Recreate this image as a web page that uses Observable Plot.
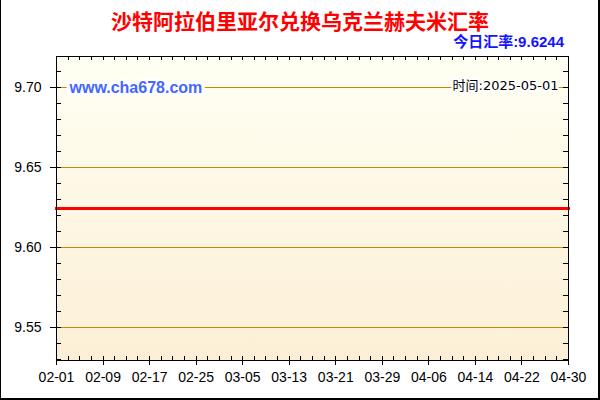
<!DOCTYPE html>
<html>
<head>
<meta charset="utf-8">
<script src="https://cdn.jsdelivr.net/npm/d3@7"></script>
<script src="https://cdn.jsdelivr.net/npm/@observablehq/plot@0.6"></script>
<style>
  body { margin: 0; background: #fff; }
  #wrap { position: relative; width: 600px; height: 400px; overflow: hidden; background: #fff; }
  #chart { position: absolute; left: 0; top: 0; }
  #title { position: absolute; left: 0; top: 9px; width: 600px; text-align: center;
           color: #ff0000; font: bold 21px/23px "Noto Sans CJK SC", sans-serif; }
  #today { position: absolute; right: 36px; top: 33px; color: #1414ff;
           font: bold 15px/18px "Liberation Sans", Arial, "Noto Sans CJK SC", sans-serif; }
  .bl { position: absolute; left: 0; top: 0; width: 1px; height: 400px; background: #000; }
  .br { position: absolute; right: 0; top: 0; width: 2px; height: 400px; background: #000; }
  .bb { position: absolute; left: 0; bottom: 0; width: 600px; height: 2px; background: #000; }
  #chart svg .grid line { stroke: #c08a00 !important; stroke-opacity: 1 !important; }
</style>
</head>
<body>
<div id="wrap">
  <div id="chart"></div>
  <div id="title">沙特阿拉伯里亚尔兑换乌克兰赫夫米汇率</div>
  <div id="today">今日汇率:9.6244</div>
  <div class="bl"></div><div class="br"></div><div class="bb"></div>
</div>
<script>
// ---- data ----
const dates = ["2025-02-01","2025-02-09","2025-02-17","2025-02-25","2025-03-05","2025-03-13",
               "2025-03-21","2025-03-29","2025-04-06","2025-04-14","2025-04-22","2025-04-30"];
const rates = [9.6244,9.6244,9.6244,9.6244,9.6244,9.6244,9.6244,9.6244,9.6244,9.6244,9.6244,9.6244];
const xTickDates = ["2025-02-01","2025-02-09","2025-02-17","2025-02-25","2025-03-05","2025-03-13",
                    "2025-03-21","2025-03-29","2025-04-06","2025-04-14","2025-04-22","2025-04-30"];
const xTickLabels = ["02-01","02-09","02-17","02-25","03-05","03-13","03-21","03-29","04-06","04-14","04-22","04-30"];
const yTicks = [9.55, 9.60, 9.65, 9.70];
const yMinorTicks = [9.53,9.54,9.55,9.56,9.57,9.58,9.59,9.60,9.61,9.62,9.63,9.64,9.65,9.66,9.67,9.68,9.69,9.70,9.71];
const yDomain = [9.5294, 9.7194];
const siteText = "www.cha678.com";
const timeText = "时间:2025-05-01";

// ---- chart ----
const W = 600, H = 400, mL = 56, mR = 32, mT = 56, mB = 40;
const plotW = W - mL - mR, plotH = H - mT - mB;
const parse = d3.utcParse("%Y-%m-%d");
const data = dates.map((d, i) => ({date: parse(d), rate: rates[i]}));
const majorX = xTickDates.map(parse);
const x0 = parse(dates[0]), x1 = parse(dates[dates.length - 1]);
const minorX = d3.utcDay.range(x0, d3.utcDay.offset(x1, 1), 2);
const labelOf = new Map(majorX.map((d, i) => [+d, xTickLabels[i]]));

const defs = () => {
  const g = d3.create("svg:defs");
  const lg = g.append("linearGradient").attr("id", "bgGrad")
    .attr("x1", 0).attr("y1", 0).attr("x2", 0).attr("y2", 1);
  lg.append("stop").attr("offset", "0%").attr("stop-color", "#fffff3");
  lg.append("stop").attr("offset", "100%").attr("stop-color", "#fcefd6");
  return g.node();
};

const fontAxis = "'Liberation Sans', Arial, sans-serif";
const gridColor = "#c08a00";
const crisp = "crispEdges";

const chart = Plot.plot({
  width: W, height: H,
  marginLeft: mL, marginRight: mR, marginTop: mT, marginBottom: mB,
  style: {background: "transparent", fontFamily: fontAxis, color: "#000"},
  x: {type: "utc", domain: [x0, x1]},
  y: {domain: yDomain},
  marks: [
    defs,
    Plot.frame({fill: "url(#bgGrad)", stroke: null}),
    Plot.ruleY(yTicks, {y: d => d, stroke: gridColor, strokeWidth: 1.2, strokeOpacity: 1,
                        className: "grid", shapeRendering: crisp}),
    Plot.line(data, {x: "date", y: "rate", stroke: "#ff0000", strokeWidth: 3, shapeRendering: crisp}),
    // inner ticks: left, right, top, bottom
    Plot.tickY(yMinorTicks, {y: d => d, insetRight: plotW - 5, stroke: "#000", shapeRendering: crisp}),
    Plot.tickY(yMinorTicks, {y: d => d, insetLeft: plotW - 5, stroke: "#000", shapeRendering: crisp}),
    Plot.tickX(minorX, {x: d => d, insetBottom: plotH - 4, stroke: "#000", shapeRendering: crisp}),
    Plot.tickX(minorX, {x: d => d, insetTop: plotH - 4, stroke: "#000", shapeRendering: crisp}),
    Plot.frame({stroke: "#000", strokeWidth: 1, shapeRendering: crisp}),
    Plot.axisY({ticks: yTicks, tickFormat: d => d.toFixed(2), tickSize: 6, tickPadding: 9,
                fontSize: 14, label: null, shapeRendering: crisp}),
    Plot.axisX({ticks: majorX, tickFormat: d => labelOf.get(+d), tickSize: 5, tickPadding: 7,
                fontSize: 14, label: null, shapeRendering: crisp}),
    Plot.text([{t: siteText, v: 9.70}], {text: "t", y: "v", frameAnchor: "left", textAnchor: "start",
               dx: 13, dy: 0, fill: "#4466ff", stroke: "#fff", strokeWidth: 7, fontSize: 16,
               fontWeight: "bold", fontFamily: fontAxis}),
    Plot.text([{t: timeText, v: 9.70}], {text: "t", y: "v", frameAnchor: "right", textAnchor: "end",
               lineAnchor: "bottom", dx: -10, dy: 2, fill: "#000", stroke: "#fff", strokeWidth: 4,
               fontSize: 13, fontFamily: "'DejaVu Sans', 'Noto Sans CJK SC', sans-serif"})
  ]
});
document.getElementById("chart").appendChild(chart);
</script>
</body>
</html>
